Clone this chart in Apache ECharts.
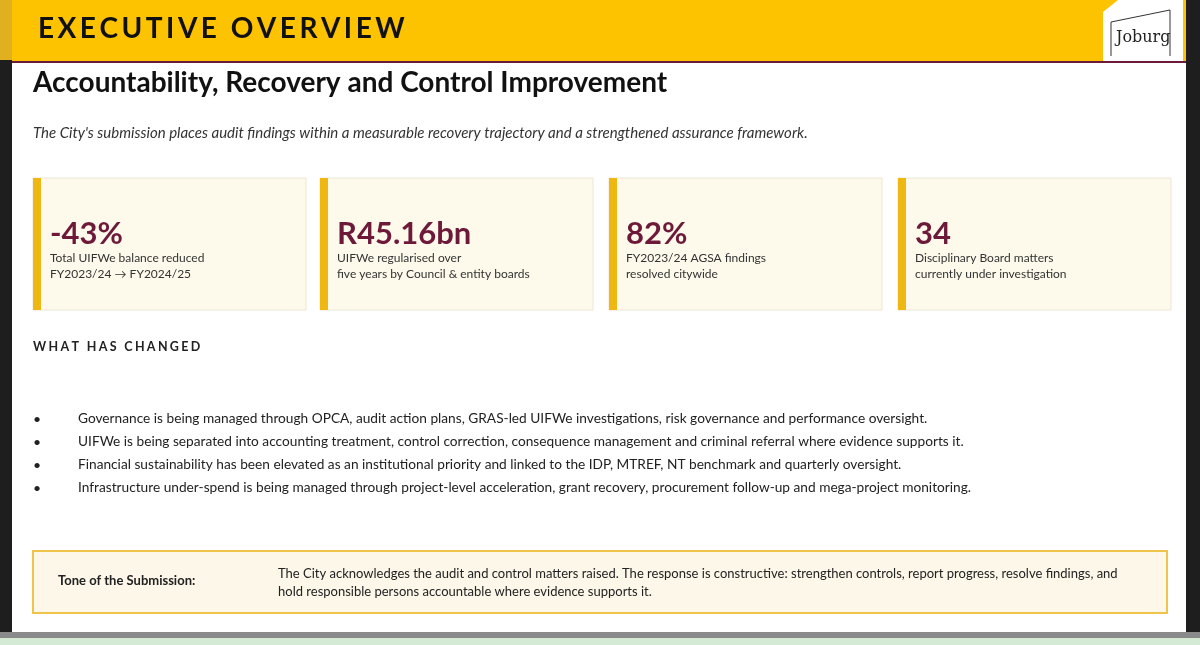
<!DOCTYPE html>
<html><head><meta charset="utf-8">
<script src="https://cdn.jsdelivr.net/npm/echarts@6/dist/echarts.min.js"></script>
<style>html,body{margin:0;padding:0;background:#fff}#c{width:1200px;height:645px}</style>
</head><body><div id="c"></div>
<script>
const kpiValues = ['-43%', 'R45.16bn', '82%', '34'];
const kpiLine1 = ['Total UIFWe balance reduced', 'UIFWe regularised over', 'FY2023/24 AGSA findings', 'Disciplinary Board matters'];
const kpiLine2 = ['FY2023/24 \u2192 FY2024/25', 'five years by Council & entity boards', 'resolved citywide', 'currently under investigation'];
const bullets = [
 'Governance is being managed through OPCA, audit action plans, GRAS-led UIFWe investigations, risk governance and performance oversight.',
 'UIFWe is being separated into accounting treatment, control correction, consequence management and criminal referral where evidence supports it.',
 'Financial sustainability has been elevated as an institutional priority and linked to the IDP, MTREF, NT benchmark and quarterly oversight.',
 'Infrastructure under-spend is being managed through project-level acceleration, grant recovery, procurement follow-up and mega-project monitoring.'
];
const F = 'Lato, "Open Sans", sans-serif';
const spaced = (s, sp) => s.split('').join(sp);
const g = [];
g.push({type:'rect',shape:{x:0,y:0,width:1200,height:645},style:{fill:'#fff'}});
g.push({type:'rect',shape:{x:0,y:0,width:12,height:636},style:{fill:'#1e1e1e'}});
g.push({type:'rect',shape:{x:0,y:0,width:12,height:60},style:{fill:'#e0b020'}});
g.push({type:'rect',shape:{x:1186,y:0,width:14,height:636},style:{fill:'#1e1e1e'}});
g.push({type:'rect',shape:{x:0,y:632,width:1200,height:6},style:{fill:'#8a8a8a'}});
g.push({type:'rect',shape:{x:0,y:638,width:1200,height:7},style:{fill:'#d5ead5'}});
g.push({type:'rect',shape:{x:12,y:0,width:1088,height:61},style:{fill:'#fdc300'}});
g.push({type:'rect',shape:{x:1100,y:0,width:86,height:61},style:{fill:'#fdc300'}});
g.push({type:'rect',shape:{x:1103,y:0,width:80,height:61},style:{fill:'#fff'}});
g.push({type:'polygon',shape:{points:[[1103,0],[1118,0],[1103,12]]},style:{fill:'#fdc300'}});
g.push({type:'rect',shape:{x:12,y:61,width:1174,height:2},style:{fill:'#6d1a3a'}});
g.push({type:'text',left:38,top:15,style:{text:spaced('EXECUTIVE OVERVIEW','\u2009'),font:'bold 28px '+F,fill:'#111'}});
g.push({type:'polyline',shape:{points:[[1111,56],[1111,22],[1170,10],[1170,56]]},style:{stroke:'#333',lineWidth:1,fill:null}});
g.push({type:'text',left:1116,top:30,style:{text:'Joburg',font:'16px "DejaVu Serif", serif',fill:'#222'}});
g.push({type:'text',left:33,top:69,style:{text:'Accountability, Recovery and Control Improvement',font:'bold 28px '+F,fill:'#111'}});
g.push({type:'text',left:33,top:126,style:{text:"The City's submission places audit findings within a measurable recovery trajectory and a strengthened assurance framework.",font:'italic 15px '+F,fill:'#333'}});
const cx=[33,320,609,898];
kpiValues.forEach((v,i)=>{
  const x=cx[i];
  g.push({type:'rect',shape:{x:x,y:178,width:273,height:132},style:{fill:'#fdfaeb',stroke:'#ece6d6',lineWidth:1}});
  g.push({type:'rect',shape:{x:x,y:178,width:8,height:132},style:{fill:'#efb712'}});
  g.push({type:'text',left:x+17,top:218,style:{text:v,font:'bold 31px '+F,fill:'#6d1a3a'}});
  g.push({type:'text',left:x+17,top:252,style:{text:kpiLine1[i],font:'12px '+F,fill:'#333'}});
  g.push({type:'text',left:x+17,top:268,style:{text:kpiLine2[i],font:'12px '+F,fill:'#333'}});
});
g.push({type:'text',left:33,top:340,style:{text:spaced('WHAT HAS CHANGED','\u2009\u200A'),font:'bold 12.5px '+F,fill:'#222'}});
bullets.forEach((b,i)=>{
  g.push({type:'text',left:33,top:412+i*23,style:{text:'\u2022',font:'14px '+F,fill:'#222'}});
  g.push({type:'text',left:78,top:412+i*23,style:{text:b,font:'13.7px '+F,fill:'#222'}});
});
g.push({type:'rect',shape:{x:33,y:551,width:1134,height:62},style:{fill:'#fcf7e8',stroke:'#f0c44a',lineWidth:2}});
g.push({type:'text',left:58,top:574,style:{text:'Tone of the Submission:',font:'bold 13px '+F,fill:'#222'}});
g.push({type:'text',left:278,top:565,style:{text:'The City acknowledges the audit and control matters raised. The response is constructive: strengthen controls, report progress, resolve findings, and\nhold responsible persons accountable where evidence supports it.',font:'13px '+F,fill:'#222',lineHeight:18}});
const chart = echarts.init(document.getElementById('c'));
chart.setOption({animation:false,graphic:g});
</script></body></html>
